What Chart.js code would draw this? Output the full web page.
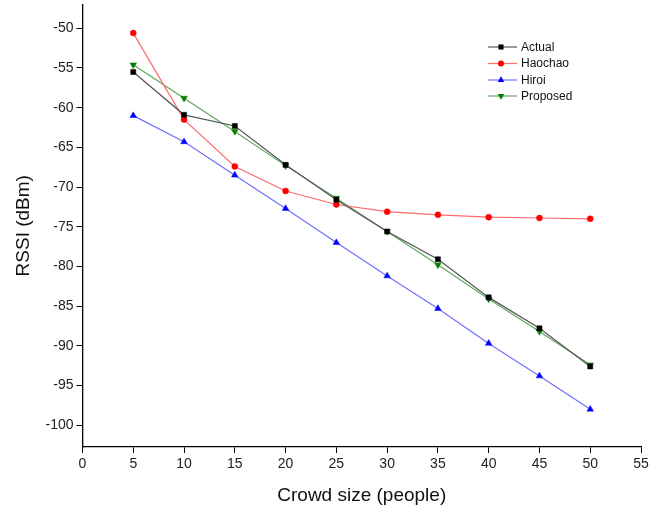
<!DOCTYPE html>
<html>
<head>
<meta charset="utf-8">
<script src="https://cdn.jsdelivr.net/npm/chart.js@4.4.1/dist/chart.umd.min.js"></script>
<style>
  html, body { margin: 0; padding: 0; background: #ffffff; }
  #wrap { width: 665px; height: 511px; }
</style>
</head>
<body>
<div id="wrap"><canvas id="c" width="665" height="511"></canvas></div>
<script>
// ---- data ----
const crowdSizes = [5, 10, 15, 20, 25, 30, 35, 40, 45, 50];
const actual   = [-55.5, -60.9, -62.3, -67.2, -71.6, -75.6, -79.1, -83.9, -87.8, -92.6];
const haochao  = [-50.6, -61.5, -67.4, -70.5, -72.2, -73.1, -73.5, -73.8, -73.9, -74.0];
const hiroi    = [-61.0, -64.3, -68.5, -72.7, -77.0, -81.2, -85.3, -89.7, -93.8, -98.0];
const proposed = [-54.6, -58.8, -63.0, -67.3, -71.4, -75.6, -79.8, -84.1, -88.2, -92.4];
const seriesNames = ['Actual', 'Haochao', 'Hiroi', 'Proposed'];
const xTickValues = [0, 5, 10, 15, 20, 25, 30, 35, 40, 45, 50, 55];
const yTickValues = [-100, -95, -90, -85, -80, -75, -70, -65, -60, -55, -50];

const FONT = "'Liberation Sans', Arial, sans-serif";

function toPoints(arr) { return crowdSizes.map((x, i) => ({ x: x, y: arr[i] })); }

const styles = [
  { line: '#555555', point: '#000000', shape: 'rect',     rot: 0,   r: 3.6 },
  { line: '#ff6a6a', point: '#ff0000', shape: 'circle',   rot: 0,   r: 3.0 },
  { line: '#7070ff', point: '#0000ff', shape: 'triangle', rot: 0,   r: 3.8 },
  { line: '#5fa85f', point: '#008000', shape: 'triangle', rot: 180, r: 3.8 }
];
const seriesData = [actual, haochao, hiroi, proposed];

const datasets = seriesData.map((arr, i) => ({
  label: seriesNames[i],
  data: toPoints(arr),
  borderColor: styles[i].line,
  backgroundColor: styles[i].point,
  pointBackgroundColor: styles[i].point,
  pointBorderColor: styles[i].point,
  pointBorderWidth: 0.5,
  pointStyle: styles[i].shape,
  pointRotation: styles[i].rot,
  pointRadius: styles[i].r,
  borderWidth: 1.2,
  tension: 0,
  fill: false
}));

function drawMarker(ctx, shape, rot, r, x, y, color) {
  ctx.save();
  ctx.fillStyle = color;
  ctx.beginPath();
  if (shape === 'rect') {
    const s = r * Math.SQRT1_2;
    ctx.rect(x - s, y - s, 2 * s, 2 * s);
  } else if (shape === 'circle') {
    ctx.arc(x, y, r, 0, Math.PI * 2);
  } else {
    const sgn = rot === 180 ? -1 : 1;
    ctx.moveTo(x, y - sgn * r);
    ctx.lineTo(x - r * 0.866, y + sgn * r * 0.5);
    ctx.lineTo(x + r * 0.866, y + sgn * r * 0.5);
    ctx.closePath();
  }
  ctx.fill();
  ctx.restore();
}

const legendPlugin = {
  id: 'customLegend',
  afterDraw(chart) {
    const ctx = chart.ctx;
    const x0 = 488, x1 = 517, xm = 501, xt = 521;
    const ys = [47, 63.5, 80, 96];
    ctx.save();
    ctx.font = '12px ' + FONT;
    ctx.textBaseline = 'middle';
    ctx.textAlign = 'left';
    seriesNames.forEach((name, i) => {
      const st = styles[i];
      ctx.strokeStyle = st.line;
      ctx.lineWidth = 1.2;
      ctx.beginPath();
      ctx.moveTo(x0, ys[i]);
      ctx.lineTo(x1, ys[i]);
      ctx.stroke();
      drawMarker(ctx, st.shape, st.rot, st.r, xm, ys[i], st.point);
      ctx.fillStyle = '#111111';
      ctx.fillText(name, xt, ys[i] + 0.5);
    });
    ctx.restore();
  }
};

new Chart(document.getElementById('c'), {
  type: 'line',
  data: { datasets: datasets },
  options: {
    responsive: false,
    animation: false,
    devicePixelRatio: 1,
    layout: { padding: { top: 1, right: 24, left: 0, bottom: 0 } },
    plugins: { legend: { display: false }, tooltip: { enabled: false } },
    scales: {
      x: {
        type: 'linear',
        min: 0,
        max: 55,
        afterFit(scale) { scale.height = 64; scale.paddingLeft = 0; scale.paddingRight = 0; },
        afterBuildTicks(scale) { scale.ticks = xTickValues.map(v => ({ value: v })); },
        grid: { display: true, drawOnChartArea: false, drawTicks: true, tickLength: 6, color: '#000000', lineWidth: 1 },
        border: { display: true, color: '#000000', width: 1.3 },
        ticks: { color: '#222222', font: { family: FONT, size: 14 }, padding: 3, maxRotation: 0, autoSkip: false },
        title: { display: true, text: 'Crowd size (people)', color: '#111111', font: { family: FONT, size: 19 }, padding: { top: 0, bottom: 4 } }
      },
      y: {
        type: 'linear',
        min: -102.75,
        max: -47,
        afterFit(scale) { scale.width = 82.5; scale.paddingTop = 0; scale.paddingBottom = 0; },
        afterBuildTicks(scale) { scale.ticks = yTickValues.map(v => ({ value: v })); },
        grid: { display: true, drawOnChartArea: false, drawTicks: true, tickLength: 6, color: '#000000', lineWidth: 1 },
        border: { display: true, color: '#000000', width: 1.3 },
        ticks: { color: '#222222', font: { family: FONT, size: 14 }, padding: 3, autoSkip: false },
        title: { display: true, text: 'RSSI (dBm)', color: '#111111', font: { family: FONT, size: 19 }, padding: { top: 12, bottom: 0 } }
      }
    }
  },
  plugins: [legendPlugin]
});
</script>
</body>
</html>
